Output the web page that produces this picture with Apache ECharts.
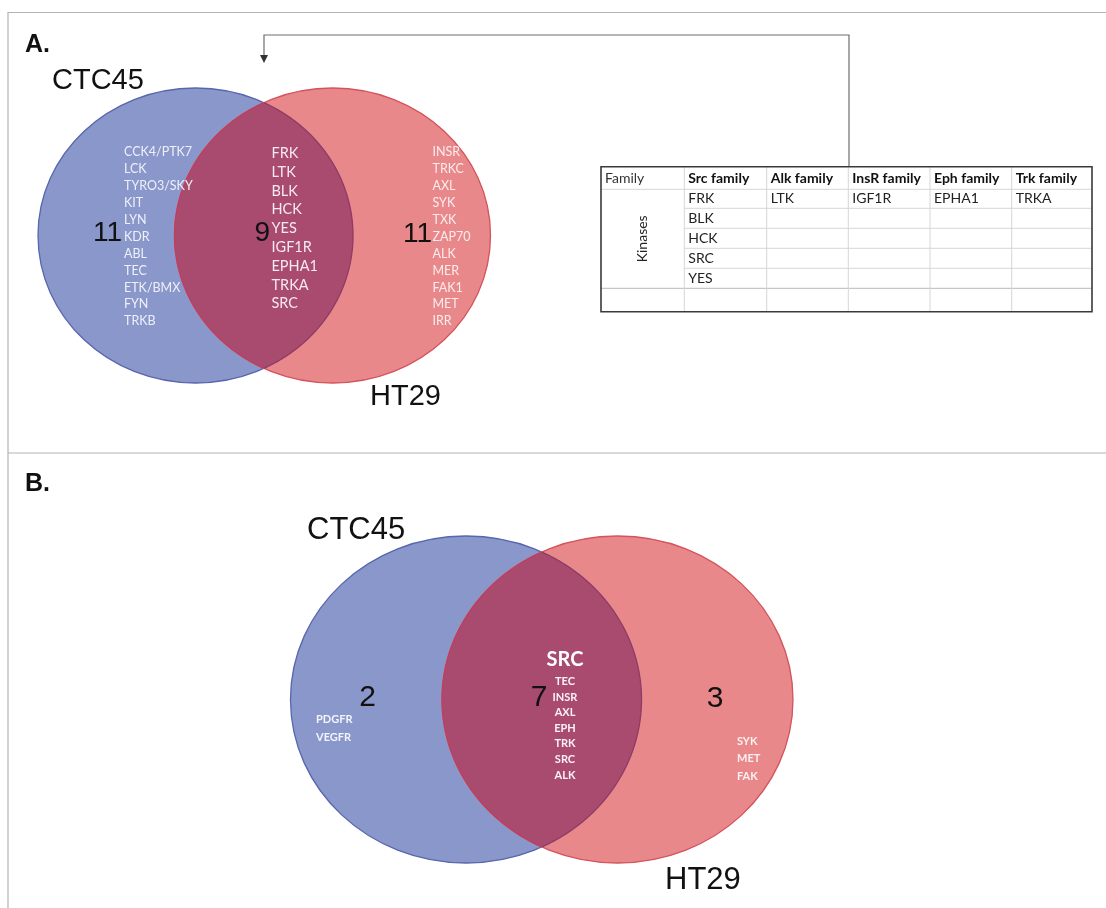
<!DOCTYPE html>
<html><head><meta charset="utf-8">
<script src="https://cdn.jsdelivr.net/npm/echarts@6/dist/echarts.min.js"></script>
<style>html,body{margin:0;padding:0;background:#fff}#c{width:1106px;height:908px}</style>
</head><body><div id="c"></div>
<script>
// ---------------- data ----------------
const setNames = ['CTC45', 'HT29'];
const panelLabels = ['A.', 'B.'];
const countsA = [11, 9, 11];            // CTC45 only, both, HT29 only
const genesA_ctc = ['CCK4/PTK7','LCK','TYRO3/SKY','KIT','LYN','KDR','ABL','TEC','ETK/BMX','FYN','TRKB'];
const genesA_both = ['FRK','LTK','BLK','HCK','YES','IGF1R','EPHA1','TRKA','SRC'];
const genesA_ht = ['INSR','TRKC','AXL','SYK','TXK','ZAP70','ALK','MER','FAK1','MET','IRR'];
const countsB = [2, 7, 3];
const genesB_ctc = ['PDGFR','VEGFR'];
const genesB_bothTitle = 'SRC';
const genesB_both = ['TEC','INSR','AXL','EPH','TRK','SRC','ALK'];
const genesB_ht = ['SYK','MET','FAK'];
const tableHeader = ['Family','Src family','Alk family','InsR family','Eph family','Trk family'];
const tableRowLabel = 'Kinases';
const tableRows = [
  ['FRK','LTK','IGF1R','EPHA1','TRKA'],
  ['BLK','','','',''],
  ['HCK','','','',''],
  ['SRC','','','',''],
  ['YES','','','',''],
  ['','','','','']
];

// ---------------- layout (page units = px) ----------------
const W = 1106, H = 908;
const ellA = { blue:{cx:195.5, cy:235.5, rx:157.5, ry:147.5}, red:{cx:332.5, cy:235.5, rx:158, ry:147.5} };
const ellB = { blue:{cx:466, cy:699.5, rx:175.5, ry:163.5}, red:{cx:617.5, cy:699.5, rx:175.5, ry:163.5} };
const colX = [601, 684.3, 766.7, 848.3, 930, 1011.7, 1092];
const rowY = [166.7, 189.3, 208.3, 228.3, 248.3, 268.3, 288.3, 311.7];
const COL = { blueFill:'#8a97cb', blueStroke:'#5866ad', redFill:'#e8888a', redStroke:'#d4545d',
  lensFill:'#a84b6e', lensLeft:'#c43d5c', lensRight:'#8e3b66' };
const SANS = 'Liberation Sans', CAL = 'Lato';

function inside(e, x, y){ const dx=(x-e.cx)/e.rx, dy=(y-e.cy)/e.ry; return dx*dx+dy*dy <= 1.0001; }
function lensArcs(b, r){
  const left=[], right=[], N=900;
  for(let i=0;i<=N;i++){ const t=Math.PI/2+Math.PI*i/N; const x=r.cx+r.rx*Math.cos(t), y=r.cy+r.ry*Math.sin(t); if(inside(b,x,y)) left.push([x,y]); }
  for(let i=0;i<=N;i++){ const t=-Math.PI/2+Math.PI*i/N; const x=b.cx+b.rx*Math.cos(t), y=b.cy+b.ry*Math.sin(t); if(inside(r,x,y)) right.push([x,y]); }
  return {left, right};
}

function vennSeries(ell){
  return {
    type:'custom', z:2, data:[[ell.blue.cx, ell.blue.cy]],
    renderItem:function(params, api){
      const mk = (e, fill, stroke) => { const c=api.coord([e.cx,e.cy]); const s=api.size([e.rx,e.ry]);
        return {type:'ellipse', shape:{cx:c[0], cy:c[1], rx:s[0], ry:s[1]}, style:{fill, stroke, lineWidth:1.3}}; };
      const arcs = lensArcs(ell.blue, ell.red);
      const L = arcs.left.map(p=>api.coord(p)), R = arcs.right.map(p=>api.coord(p));
      return {type:'group', children:[
        mk(ell.blue, COL.blueFill, COL.blueStroke),
        mk(ell.red, COL.redFill, COL.redStroke),
        {type:'polygon', shape:{points:L.concat(R)}, style:{fill:COL.lensFill}},
        {type:'polyline', shape:{points:L}, style:{fill:null, stroke:COL.lensLeft, lineWidth:1.3}},
        {type:'polyline', shape:{points:R}, style:{fill:null, stroke:COL.lensRight, lineWidth:1.3}}
      ]};
    }
  };
}

// text items: {x,y,text}
function textSeries(items, st){
  return {
    type:'custom', z:5, data:items.map(it=>[it.x, it.y]),
    renderItem:function(params, api){
      const it = items[params.dataIndex];
      const p = api.coord([api.value(0), api.value(1)]);
      const a = it.align || st.align || 'left';
      return {type:'text', x:p[0], y:p[1], rotation: it.rot || 0,
        style:{text:it.text, fill:st.fill, fontSize:st.size, fontFamily:st.family, fontWeight:st.weight||'normal',
          align:a, textAlign:a, verticalAlign:'middle', textVerticalAlign:'middle'}};
    }
  };
}
function list(arr, x, y0, dy, align){ return arr.map((t,i)=>({x, y:y0+i*dy, text:t, align})); }

function lineSeries(segs, color, width, z){
  return {
    type:'custom', z:z||1, data:segs.map((s,i)=>[i]),
    renderItem:function(params, api){
      const s = segs[params.dataIndex];
      const pts = s.map(p=>api.coord(p));
      return {type:'polyline', shape:{points:pts}, style:{fill:null, stroke:color, lineWidth:width}};
    }
  };
}

// ---------------- series ----------------
const series = [];
// frame
series.push(lineSeries([[[8,908],[8,12.5],[1106,12.5]], [[8,453],[1106,453]]], '#b4b4b4', 1.2, 1));
// venns
series.push(vennSeries(ellA));
series.push(vennSeries(ellB));
// arrow
series.push(lineSeries([[[849,166],[849,35],[264,35],[264,56]]], '#6e6e6e', 1.2, 3));
series.push({type:'custom', z:3, data:[[264,63]], renderItem:function(p, api){
  const t=api.coord([264,63]), a=api.coord([260,55]), b=api.coord([268,55]);
  return {type:'polygon', shape:{points:[t,a,b]}, style:{fill:'#333'}};
}});
// table
series.push({type:'custom', z:3, data:[[colX[0], rowY[0]]], renderItem:function(params, api){
  const ch = [];
  const c0 = api.coord([colX[0], rowY[0]]), c1 = api.coord([colX[colX.length-1], rowY[rowY.length-1]]);
  ch.push({type:'rect', shape:{x:c0[0], y:c0[1], width:c1[0]-c0[0], height:c1[1]-c0[1]}, style:{fill:'#fff', stroke:null}});
  for(let r=1;r<rowY.length-1;r++){
    const full = (r===1 || r===rowY.length-2);
    const xs = full ? colX[0] : colX[1];
    const a=api.coord([xs,rowY[r]]), b=api.coord([colX[colX.length-1],rowY[r]]);
    ch.push({type:'line', shape:{x1:a[0],y1:a[1],x2:b[0],y2:b[1]}, style:{stroke: r===rowY.length-2 ? '#b8b8b8' : '#d6d6d6', lineWidth:1}});
  }
  for(let c=1;c<colX.length-1;c++){
    const a=api.coord([colX[c],rowY[0]]), b=api.coord([colX[c],rowY[rowY.length-1]]);
    ch.push({type:'line', shape:{x1:a[0],y1:a[1],x2:b[0],y2:b[1]}, style:{stroke:'#d6d6d6', lineWidth:1}});
  }
  ch.push({type:'rect', shape:{x:c0[0], y:c0[1], width:c1[0]-c0[0], height:c1[1]-c0[1]}, style:{fill:null, stroke:'#3a3a3a', lineWidth:1.6}});
  return {type:'group', children:ch};
}});
const headItems = tableHeader.map((t,i)=>({x:colX[i]+4, y:(rowY[0]+rowY[1])/2, text:t}));
series.push(textSeries(headItems.slice(0,1), {fill:'#333', size:14, family:CAL}));
series.push(textSeries(headItems.slice(1), {fill:'#111', size:14, family:CAL, weight:'bold'}));
const cellItems = [];
tableRows.forEach((row, r)=>row.forEach((t, c)=>{ if(t) cellItems.push({x:colX[c+1]+4, y:(rowY[r+1]+rowY[r+2])/2, text:t}); }));
series.push(textSeries(cellItems, {fill:'#222', size:14, family:CAL}));
series.push(textSeries([{x:(colX[0]+colX[1])/2, y:(rowY[1]+rowY[6])/2, text:tableRowLabel, align:'center', rot:Math.PI/2}], {fill:'#222', size:14, family:CAL}));

// panel labels
series.push(textSeries([{x:25, y:45, text:panelLabels[0]}, {x:25, y:484, text:panelLabels[1]}], {fill:'#111', size:25, family:SANS, weight:'bold'}));
// set names
series.push(textSeries([{x:52, y:81, text:setNames[0]}, {x:370, y:397, text:setNames[1]}], {fill:'#111', size:29, family:SANS}));
series.push(textSeries([{x:307, y:530, text:setNames[0]}, {x:665, y:880, text:setNames[1]}], {fill:'#111', size:31, family:SANS}));
// counts A
series.push(textSeries([{x:122, y:233, text:String(countsA[0]), align:'right'}, {x:270, y:233, text:String(countsA[1]), align:'right'}, {x:432, y:234, text:String(countsA[2]), align:'right'}], {fill:'#111', size:28, family:SANS}));
// counts B
series.push(textSeries([{x:367.5, y:698, text:String(countsB[0]), align:'center'}, {x:539, y:698, text:String(countsB[1]), align:'center'}, {x:715, y:699, text:String(countsB[2]), align:'center'}], {fill:'#111', size:30, family:SANS}));
// genes A
series.push(textSeries(list(genesA_ctc, 124, 152.3, 16.9), {fill:'#eef0f8', size:12.5, family:CAL}));
series.push(textSeries(list(genesA_both, 271.5, 153.3, 18.8), {fill:'#f6e9ef', size:14.5, family:CAL}));
series.push(textSeries(list(genesA_ht, 432.5, 152.3, 16.9), {fill:'#fcecec', size:12.5, family:CAL}));
// genes B
series.push(textSeries([{x:565, y:660, text:genesB_bothTitle, align:'center'}], {fill:'#ffffff', size:20, family:CAL, weight:'bold'}));
series.push(textSeries(list(genesB_both, 565, 681.7, 15.55, 'center'), {fill:'#fbf2f6', size:11, family:CAL, weight:'bold'}));
series.push(textSeries(list(genesB_ctc, 316, 719.3, 18), {fill:'#f2f4fb', size:11, family:CAL, weight:'bold'}));
series.push(textSeries(list(genesB_ht, 737, 741, 17.5), {fill:'#fdf0f0', size:11, family:CAL, weight:'bold'}));

const chart = echarts.init(document.getElementById('c'), null, {renderer:'canvas'});
chart.setOption({
  animation:false,
  backgroundColor:'#ffffff',
  grid:{left:0, right:0, top:0, bottom:0, containLabel:false},
  xAxis:{type:'value', min:0, max:W, show:false},
  yAxis:{type:'value', min:0, max:H, inverse:true, show:false},
  series:series
});
</script></body></html>
